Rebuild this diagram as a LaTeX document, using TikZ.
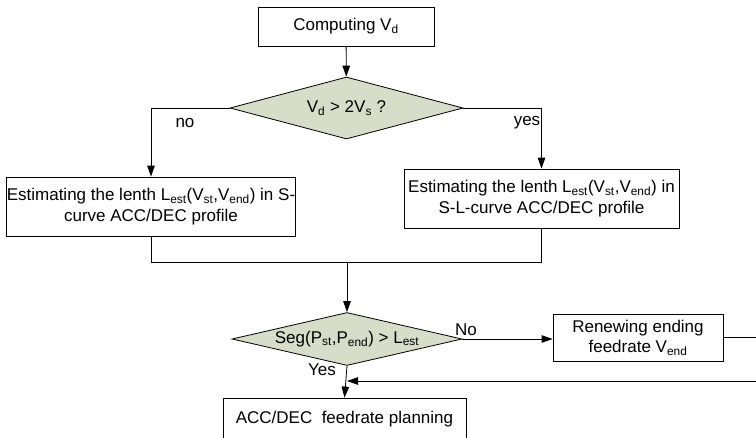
\documentclass[tikz,border=0pt]{standalone}
\usepackage{fontspec}
\setmainfont{Liberation Sans}
\usetikzlibrary{shapes.geometric,arrows.meta}
\definecolor{sage}{RGB}{215,221,200}
\newcommand{\lowtxt}[1]{\textsubscript{#1}}

\begin{document}
\begin{tikzpicture}[x=1pt, y=-1pt, font=\fontsize{17}{20.5}\selectfont,
	box/.style={draw, line width=0.8pt, align=center, inner sep=0pt},
	test/.style={draw, diamond, fill=sage, line width=0.8pt, inner sep=1pt},
	flow/.style={line width=0.8pt, -{Triangle[length=11pt, width=7.5pt]}},
	link/.style={line width=0.8pt}]
	\useasboundingbox (0,0) rectangle (756,437);
	% boxes
	\node[box, minimum width=176pt, minimum height=39pt] (compute) at (346,26.5) {Computing V\lowtxt{d}};
	\node[box, minimum width=288pt, minimum height=59pt] (scurve) at (151,206.5) {Estimating the lenth L\lowtxt{est}(V\lowtxt{st},V\lowtxt{end}) in S-\\curve ACC/DEC profile};
	\node[box, minimum width=275pt, minimum height=59pt] (slcurve) at (541.5,198.5) {Estimating the lenth L\lowtxt{est}(V\lowtxt{st},V\lowtxt{end}) in\\S-L-curve ACC/DEC profile};
	\node[box, minimum width=170pt, minimum height=47pt] (renew) at (638,337.5) {Renewing ending\\feedrate V\lowtxt{end}};
	\node[box, minimum width=243pt, minimum height=42pt] (plan) at (344.5,419) {ACC/DEC~ feedrate planning};
	% tests
	\node[test, minimum width=233pt, minimum height=62pt, aspect=3.75] (speed) at (346.5,108) {V\lowtxt{d} > 2V\lowtxt{s} ?};
	\node[test, minimum width=230pt, minimum height=53pt, aspect=4.3] (seg) at (347,339) {Seg(P\lowtxt{st},P\lowtxt{end}) > L\lowtxt{est}};
	% points
	\coordinate (join) at (347,262);
	\coordinate (edgeup) at (760,337.5);
	\coordinate (edgedown) at (760,381);
	% arrows
	\draw [flow] (compute) -- (speed);
	\draw [flow] (speed.west) -| (scurve.north);
	\draw [flow] (speed.east) -| (slcurve.north);
	\draw [link] (scurve.south) |- (join);
	\draw [link] (slcurve.south) |- (join);
	\draw [flow] (join) -- (seg.north);
	\draw [flow] (seg.east) -- (seg.east -| renew.west);
	\draw [flow] (seg.south) -- (plan.north);
	\draw [link] (renew.east) -- (edgeup) -- (edgedown);
	\draw [flow] (edgedown) -- (edgedown -| seg.south);
	% labels
	\node at (185,123) {no};
	\node at (527,123) {yes};
	\node at (466,330) {No};
	\node at (322,370) {Yes};
\end{tikzpicture}
\end{document}
